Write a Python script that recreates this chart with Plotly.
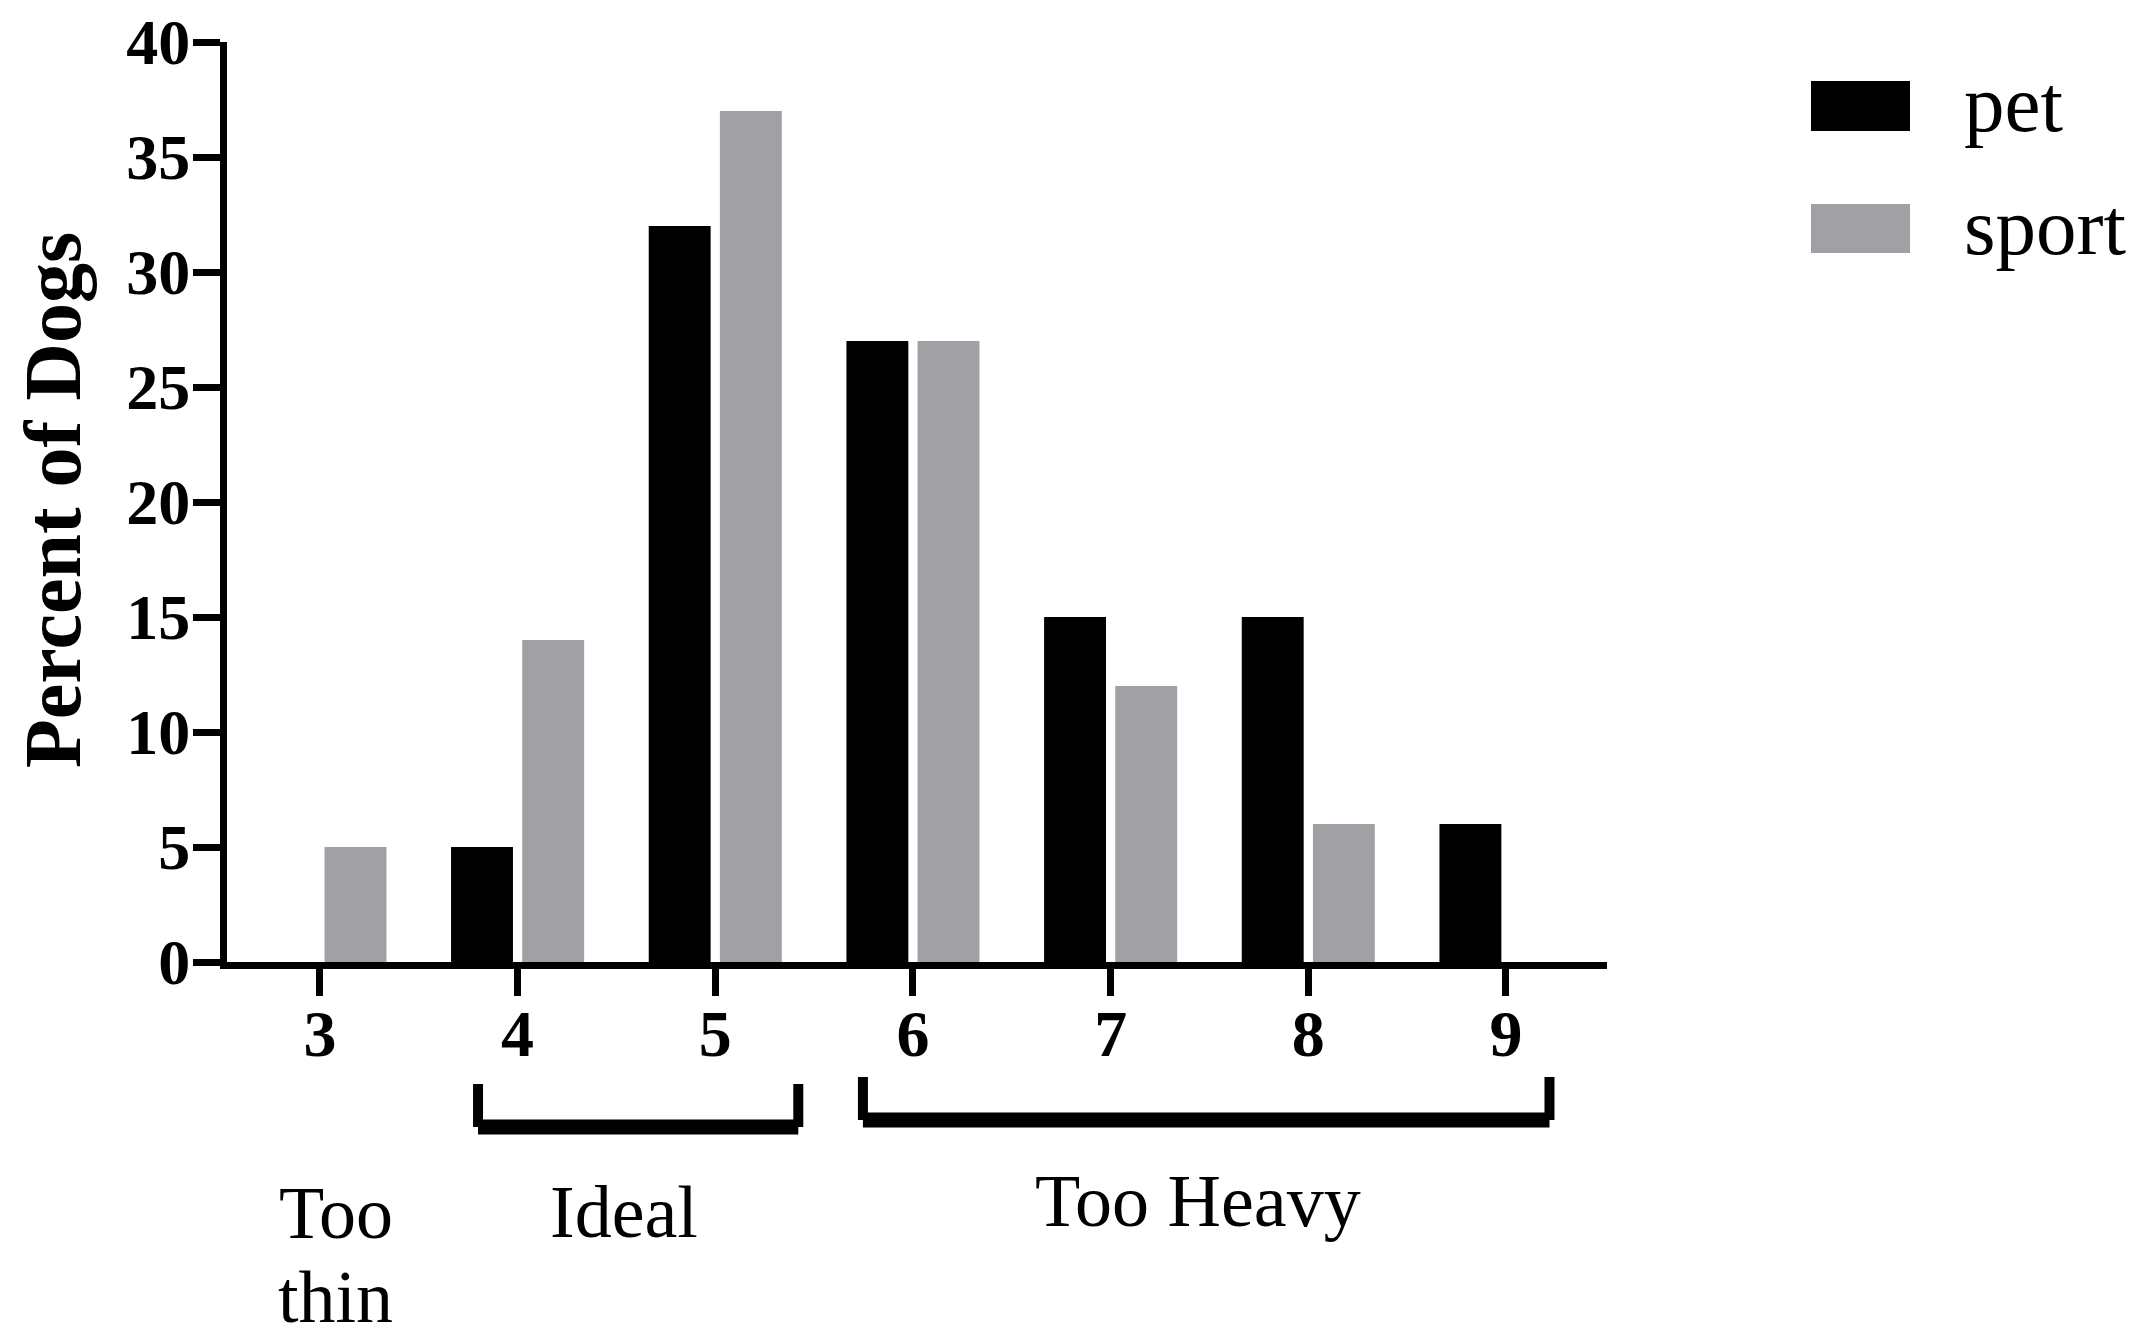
import plotly.graph_objects as go

# ---- data ----
scores = [3, 4, 5, 6, 7, 8, 9]
pet = [0, 5, 32, 27, 15, 15, 6]
sport = [5, 14, 37, 27, 12, 6, 0]
series_names = ["pet", "sport"]
y_ticks = [0, 5, 10, 15, 20, 25, 30, 35, 40]
group_labels = ["Too", "thin", "Ideal", "Too Heavy"]
group_label_x = [3.08, 3.08, 4.54, 7.44]
bracket_ranges = [(3.80, 5.42), (5.747, 9.22)]

W, H = 2135, 1341
OFF = 8  # page body margin
# plot area in reference page pixels
PL, PR, PT, PB = 227, 1607, 42, 962
L = PL - OFF
T = PT - OFF
PW, PH = PR - PL, PB - PT
R = W - L - PW
B = H - T - PH


def px_x(p):
    return (p - PL) / PW


def px_y(p):
    return (PB - p) / PH


SERIF = "Liberation Serif, Times New Roman, serif"
PET_C = "#000000"
SPORT_C = "#a1a1a5"

fig = go.Figure()
fig.add_trace(go.Bar(x=scores, y=pet, name=series_names[0], marker=dict(color=PET_C, line=dict(width=0)), showlegend=False))
fig.add_trace(go.Bar(x=scores, y=sport, name=series_names[1], marker=dict(color=SPORT_C, line=dict(width=0)), showlegend=False))

shapes = []
annotations = []

# brackets below the x axis
bracket_tops = [px_y(1084), px_y(1077)]
bracket_bots = [px_y(1127), px_y(1120)]
for (x0, x1), yt, yb in zip(bracket_ranges, bracket_tops, bracket_bots):
    for xv in (x0, x1):
        shapes.append(dict(type="line", xref="x", yref="paper", x0=xv, x1=xv, y0=yt, y1=yb,
                           line=dict(color="black", width=10), layer="above"))
    shapes.append(dict(type="path", xref="x", yref="paper",
                       path=f"M {x0},{yb} L {x1},{yb}",
                       line=dict(color="black", width=15), layer="above"))

# group labels
label_ys = [px_y(1213), px_y(1297), px_y(1212), px_y(1201)]
for txt, gx, gy in zip(group_labels, group_label_x, label_ys):
    annotations.append(dict(text=txt, x=gx, y=gy, xref="x", yref="paper",
                            showarrow=False, xanchor="center", yanchor="middle",
                            font=dict(family=SERIF, size=74, color="black")))

# y axis title
annotations.append(dict(text="<b>Percent of Dogs</b>", x=px_x(53), y=px_y(500), xref="paper", yref="paper",
                        textangle=-90, showarrow=False, xanchor="center", yanchor="middle",
                        font=dict(family=SERIF, size=80, color="black")))

# custom legend
leg = [(series_names[0], PET_C, 81, 131, 104), (series_names[1], SPORT_C, 204, 253, 227)]
for name, col, y0, y1, yc in leg:
    shapes.append(dict(type="rect", xref="paper", yref="paper",
                       x0=px_x(1811), x1=px_x(1910), y0=px_y(y1), y1=px_y(y0),
                       fillcolor=col, line=dict(width=0)))
    annotations.append(dict(text=name, x=px_x(1962), y=px_y(yc), xref="paper", yref="paper",
                            showarrow=False, xanchor="left", yanchor="middle",
                            font=dict(family=SERIF, size=81, color="black")))

fig.update_layout(
    width=W, height=H,
    margin=dict(l=L, r=R, t=T, b=B, autoexpand=False),
    paper_bgcolor="white", plot_bgcolor="white",
    barmode="group", bargap=0.28, bargroupgap=0.13,
    showlegend=False,
    shapes=shapes, annotations=annotations,
    xaxis=dict(range=[2.530, 9.511], tickmode="array", tickvals=scores,
               ticktext=[f"<b>{s}</b>" for s in scores],
               showline=True, linecolor="black", linewidth=7,
               ticks="outside", ticklen=27, tickwidth=7, tickcolor="black",
               ticklabelstandoff=-19, ticklabeloverflow="allow", automargin=False,
               showgrid=False, zeroline=False,
               tickfont=dict(family=SERIF, size=66, color="black")),
    yaxis=dict(range=[0, 40], tickmode="array", tickvals=y_ticks,
               ticktext=[f"<b>{v}</b>" for v in y_ticks],
               showline=True, linecolor="black", linewidth=7,
               ticks="outside", ticklen=27, tickwidth=7, tickcolor="black",
               ticklabelstandoff=-10, ticklabeloverflow="allow", automargin=False,
               showgrid=False, zeroline=False,
               tickfont=dict(family=SERIF, size=64, color="black")),
)

fig.write_html("out.html")
